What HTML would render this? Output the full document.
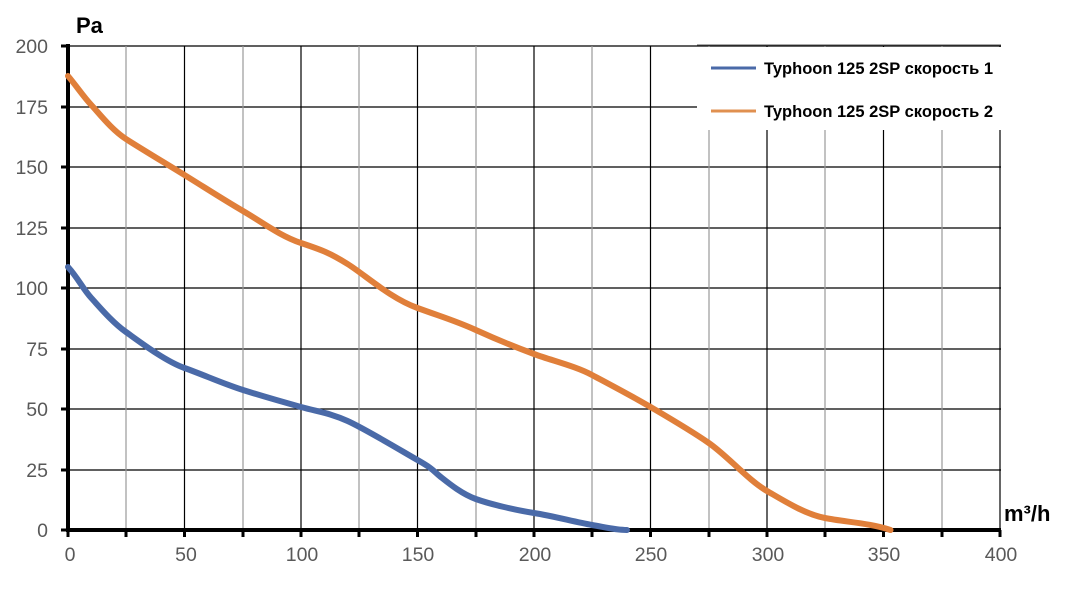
<!DOCTYPE html>
<html><head><meta charset="utf-8"><style>body{margin:0;background:#fff}svg{display:block}</style></head><body>
<svg width="1083" height="596" xmlns="http://www.w3.org/2000/svg" font-family="Liberation Sans, sans-serif">
<g stroke-width="1.2">
<g stroke="#000">
<line x1="68" y1="46" x2="1001" y2="46"/>
<line x1="68" y1="107" x2="1001" y2="107"/>
<line x1="68" y1="167" x2="1001" y2="167"/>
<line x1="68" y1="228" x2="1001" y2="228"/>
<line x1="68" y1="288" x2="1001" y2="288"/>
<line x1="68" y1="349" x2="1001" y2="349"/>
<line x1="68" y1="409" x2="1001" y2="409"/>
<line x1="68" y1="470" x2="1001" y2="470"/>
<line x1="184.5" y1="46" x2="184.5" y2="530"/>
<line x1="301" y1="46" x2="301" y2="530"/>
<line x1="417.5" y1="46" x2="417.5" y2="530"/>
<line x1="534" y1="46" x2="534" y2="530"/>
<line x1="650.5" y1="46" x2="650.5" y2="530"/>
<line x1="767" y1="46" x2="767" y2="530"/>
<line x1="883.5" y1="46" x2="883.5" y2="530"/>
<line x1="1000" y1="46" x2="1000" y2="530"/>
</g>
<g stroke="#999">
<line x1="126" y1="46" x2="126" y2="530"/>
<line x1="243" y1="46" x2="243" y2="530"/>
<line x1="359" y1="46" x2="359" y2="530"/>
<line x1="476" y1="46" x2="476" y2="530"/>
<line x1="592" y1="46" x2="592" y2="530"/>
<line x1="709" y1="46" x2="709" y2="530"/>
<line x1="825" y1="46" x2="825" y2="530"/>
<line x1="942" y1="46" x2="942" y2="530"/>
</g>
</g>
<rect x="697" y="47" width="310" height="83" fill="#fff"/>
<line x1="697" y1="45" x2="1001" y2="45" stroke="#555" stroke-width="1"/>
<g stroke="#000" stroke-width="4">
<line x1="68" y1="44" x2="68" y2="532"/>
<line x1="66" y1="530" x2="1001" y2="530"/>
</g>
<g stroke="#000" stroke-width="3">
<line x1="61" y1="46" x2="68" y2="46"/><line x1="61" y1="107" x2="68" y2="107"/><line x1="61" y1="167" x2="68" y2="167"/><line x1="61" y1="228" x2="68" y2="228"/><line x1="61" y1="288" x2="68" y2="288"/><line x1="61" y1="349" x2="68" y2="349"/><line x1="61" y1="409" x2="68" y2="409"/><line x1="61" y1="470" x2="68" y2="470"/><line x1="61" y1="530" x2="68" y2="530"/>
<line x1="68" y1="530" x2="68" y2="537"/><line x1="126" y1="530" x2="126" y2="537"/><line x1="184.5" y1="530" x2="184.5" y2="537"/><line x1="243" y1="530" x2="243" y2="537"/><line x1="301" y1="530" x2="301" y2="537"/><line x1="359" y1="530" x2="359" y2="537"/><line x1="417.5" y1="530" x2="417.5" y2="537"/><line x1="476" y1="530" x2="476" y2="537"/><line x1="534" y1="530" x2="534" y2="537"/><line x1="592" y1="530" x2="592" y2="537"/><line x1="650.5" y1="530" x2="650.5" y2="537"/><line x1="709" y1="530" x2="709" y2="537"/><line x1="767" y1="530" x2="767" y2="537"/><line x1="825" y1="530" x2="825" y2="537"/><line x1="883.5" y1="530" x2="883.5" y2="537"/><line x1="942" y1="530" x2="942" y2="537"/><line x1="1000" y1="530" x2="1000" y2="537"/>
</g>
<g fill="#595959" font-size="19.5" text-anchor="end">
<text x="48" y="53">200</text><text x="48" y="114">175</text><text x="48" y="174">150</text><text x="48" y="235">125</text><text x="48" y="295">100</text><text x="48" y="356">75</text><text x="48" y="416">50</text><text x="48" y="477">25</text><text x="48" y="537">0</text>
</g>
<g fill="#595959" font-size="19.5" text-anchor="middle">
<text x="70" y="561">0</text><text x="186" y="561">50</text><text x="302" y="561">100</text><text x="418" y="561">150</text><text x="535" y="561">200</text><text x="651" y="561">250</text><text x="768" y="561">300</text><text x="884" y="561">350</text><text x="1001" y="561">400</text>
</g>
<text x="76" y="33" font-size="22" font-weight="bold">Pa</text>
<text x="1004" y="521" font-size="22" font-weight="bold">m³/h</text>
<g fill="none" stroke-width="6" stroke-linejoin="round" stroke-linecap="round">
<path stroke="#E07F3A" d="M68,76 C78,88 83,96 91.3,105 S112,130 126,139 S165,163 184.5,175 S224,200 243,211 S280,236 301,243 S330,253 347.6,264 S390,298 417.5,308 S456,321 475.8,330 S515,347 534,354 S575,366 592,375 S630,395 650.5,407 S690,430 708.8,443 S748,480 767,491 S805,514 825,518 S870,523 890.5,530"/>
<path stroke="#4A6AA8" d="M68,267 C78,278 83,289 91.3,298 S112,322 126,332 S165,361 184.5,368 S224,384 243,390 S283,402 301,407 S330,413 347.6,421 S400,450 417.5,460 S432,470 440.8,477 S462,494 475.8,499 S515,510 534,513 S575,522 592,525 S617,530 627,530"/>
</g>
<line x1="711" y1="68" x2="756" y2="68" stroke="#4A6AA8" stroke-width="3"/>
<line x1="711" y1="111" x2="756" y2="111" stroke="#E09050" stroke-width="3"/>
<g font-size="16.5" font-weight="bold" fill="#000">
<text x="764" y="74">Typhoon 125 2SP скорость 1</text>
<text x="764" y="117">Typhoon 125 2SP скорость 2</text>
</g>
</svg>
</body></html>
